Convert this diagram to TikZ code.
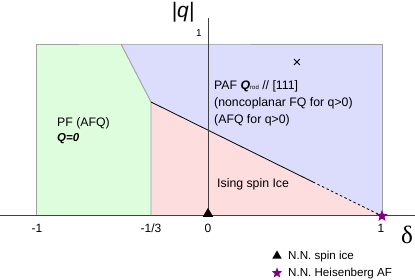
\documentclass[tikz,border=0pt]{standalone}
\usepackage{fontspec}
\setmainfont{Liberation Sans}
\newfontfamily\seriffont{Liberation Serif}
\usetikzlibrary{shapes.geometric}

\definecolor{pfgreen}{HTML}{DDFDDD}
\definecolor{pafblue}{HTML}{DCDCFC}
\definecolor{icepink}{HTML}{FDDDDD}
\definecolor{bordergray}{HTML}{A0A0A0}
\definecolor{axisgray}{HTML}{404040}
\definecolor{starpurple}{HTML}{800080}

\begin{document}
\begin{tikzpicture}[x=1pt,y=-1pt,
  regionborder/.style={draw=bordergray, line width=0.9pt},
  axisline/.style={draw=axisgray, line width=1pt},
  phaseline/.style={draw=black, line width=0.8pt},
  lbl/.style={inner sep=0pt, anchor=base west, font=\fontsize{12.3}{14}\selectfont},
  ticklbl/.style={inner sep=0pt, anchor=base, font=\fontsize{12}{14}\selectfont},
  legtext/.style={inner sep=0pt, anchor=base west, font=\fontsize{11.6}{13}\selectfont},
  trimark/.style={regular polygon, regular polygon sides=3, fill=black, inner sep=0pt, minimum size=12pt},
  starmark/.style={star, star points=5, star point ratio=2.3, fill=starpurple, inner sep=0pt, minimum size=12pt}
]
\useasboundingbox (0,0) rectangle (415,280);

% region corners
\coordinate (TL) at (36,44);
\coordinate (TR) at (382,44);
\coordinate (BR) at (382,216);
\coordinate (BL) at (36,216);
\coordinate (T1) at (121,44);
\coordinate (K) at (151,102);
\coordinate (B3) at (151,216);
\coordinate (D) at (313,182);

% fills
\fill[pfgreen] (BL) -- (TL) -- (T1) -- (K) -- (B3) -- cycle;
\fill[pafblue] (T1) -- (TR) -- (BR) -- (K) -- cycle;
\fill[icepink] (K) -- (BR) -- (B3) -- cycle;

% borders
\draw[regionborder] (BL) -- (TL) -- (T1) -- (TR) -- (BR);
\draw[regionborder] (T1) -- (K) -- (B3);
\draw[phaseline] (K) -- (D);
\draw[phaseline, dash pattern=on 2.5pt off 2.5pt] (D) -- (BR);

% axes
\coordinate (XL) at (0,216);
\coordinate (XR) at (415,216);
\coordinate (YB) at (208,216);
\coordinate (YT) at (208,18);
\draw[axisline] (XL) -- (XR);
\draw[axisline] (YB) -- (YT);

% markers on axis
\node[trimark, anchor=south] (tri) at (208,217) {};
\node[starmark] (starm) at (382,216) {};

% axis labels
\node[inner sep=0pt, font=\fontsize{21}{23}\selectfont\itshape] (qlabel) at (183,12) {|q|};
\node[inner sep=0pt, font=\fontsize{10}{12}\selectfont] (one) at (199,33) {1};
\node[inner sep=0pt, font=\seriffont\fontsize{25}{27}\selectfont] (delta) at (407,235) {δ};

% tick labels
\node[ticklbl] (tm1) at (37,233) {-1};
\node[ticklbl] (tm13) at (151,233) {-1/3};
\node[ticklbl] (t0) at (208,233) {0};
\node[ticklbl] (t1) at (381,233) {1};

% region texts
\node[inner sep=0pt, font=\fontsize{15}{16}\selectfont] (cross) at (297,63) {×};
\node[lbl] (paf1) at (214,90) {PAF \textbf{\textit{Q}}{\fontsize{6}{7}\selectfont rod} // [111]};
\node[lbl] (paf2) at (214,107) {(noncoplanar FQ for q>0)};
\node[lbl] (paf3) at (214,124) {(AFQ for q>0)};
\node[lbl] (pf1) at (57,127) {PF (AFQ)};
\node[lbl, font=\fontsize{11.5}{13}\selectfont\bfseries\itshape] (pf2) at (57,142) {Q=0};
\node[lbl] (ising) at (217,188) {Ising spin Ice};

% legend
\node[trimark, minimum size=11pt] (legtri) at (277,256) {};
\node[legtext] (legtritext) at (288,260) {N.N. spin ice};
\node[starmark, minimum size=11pt] (legstar) at (277,273) {};
\node[legtext] (legstartext) at (288,277) {N.N. Heisenberg AF};
\end{tikzpicture}
\end{document}
